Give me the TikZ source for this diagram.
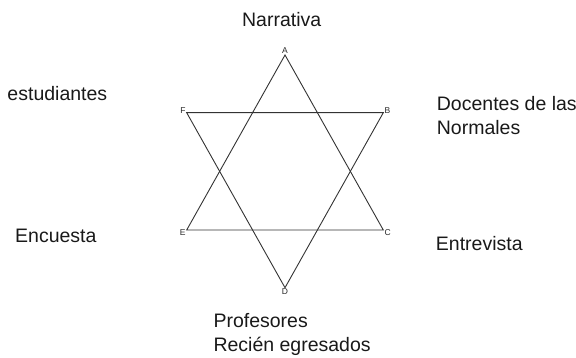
\documentclass[tikz,border=0pt]{standalone}
\usepackage{fontspec}
\setmainfont{Liberation Sans}
\usepackage{tikz}
\usetikzlibrary{positioning}

\tikzset{
  lado/.style={draw=black!80, line width=0.9pt},
  vertice/.style={font=\fontsize{8.5}{9}\selectfont, text=black!85, inner sep=1pt},
  etiqueta/.style={font=\fontsize{19.5}{24.3}\selectfont, text=black!90, inner sep=0pt, align=left}
}

\begin{document}
\begin{tikzpicture}[x=1pt, y=-1pt]
\useasboundingbox (0,0) rectangle (576,358);
% vertices de la estrella
\coordinate (A) at (285,55);
\coordinate (B) at (383.3,112.7);
\coordinate (C) at (383.3,230);
\coordinate (D) at (285,287.7);
\coordinate (E) at (186.7,230);
\coordinate (F) at (186.7,112.7);
\draw[lado] (A)--(C)--(E)--cycle;
\draw[lado] (F)--(B)--(D)--cycle;
\node[vertice, above=0pt of A] (lA) {A};
\node[vertice, above right=-2pt and 0pt of B] (lB) {B};
\node[vertice, below right=-2pt and 0pt of C] (lC) {C};
\node[vertice, below=0pt of D] (lD) {D};
\node[vertice, below left=-2pt and 0pt of E] (lE) {E};
\node[vertice, above left=-2pt and 0pt of F] (lF) {F};
% textos
\node[etiqueta, anchor=base] (narr) at (281.7,26.7) {Narrativa};
\node[etiqueta, anchor=base west] (est) at (7.3,100.7) {estudiantes};
\node[etiqueta, anchor=base west] (doc) at (436.7,135) {Docentes de las\\Normales};
\node[etiqueta, anchor=base west] (enc) at (15,242.7) {Encuesta};
\node[etiqueta, anchor=base west] (ent) at (435.7,251) {Entrevista};
\node[etiqueta, anchor=base west] (prof) at (213.3,351.7) {Profesores\\Recién egresados};
\end{tikzpicture}
\end{document}
